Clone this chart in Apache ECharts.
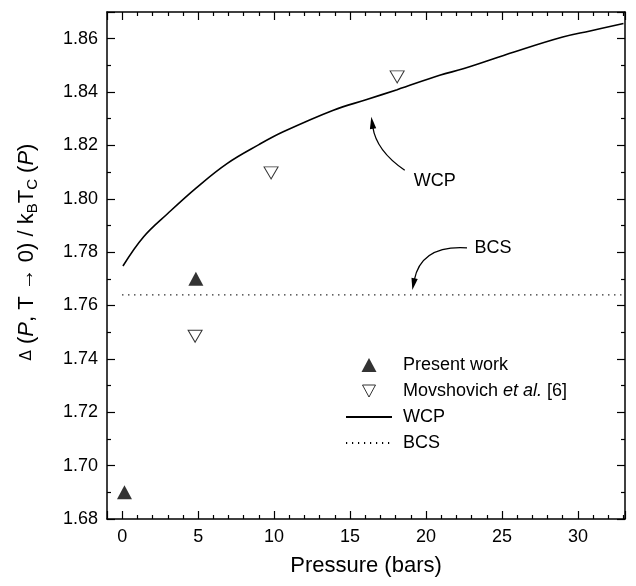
<!DOCTYPE html>
<html>
<head>
<meta charset="utf-8">
<script src="https://cdn.jsdelivr.net/npm/echarts@6.0.0/dist/echarts.min.js"></script>
<style>
  html, body { margin: 0; padding: 0; background: #fff; }
  #chart { width: 636px; height: 586px; }
</style>
</head>
<body>
<div id="chart"></div>
<script>
// values
const presentP = [0.15, 4.85];
const presentGap = [1.690, 1.770];

const movP = [4.8, 9.8, 18.1];
const movGap = [1.7485, 1.8097, 1.8457];

const wcpP = [0.05, 1.4, 3.0, 4.9, 6.9, 9.0, 10.6, 13.9, 16.1, 18.1, 20.9, 22.5, 25.8, 29.0, 30.8, 33.0];
const wcpGap = [1.7748, 1.7857, 1.7945, 1.8042, 1.8132, 1.8203, 1.8251, 1.8332, 1.8372, 1.8409, 1.8463, 1.8488, 1.8550, 1.8606, 1.8629, 1.8657];

const bcsP = [0, 33.1];
const bcsGap = [1.764, 1.764];

// annotation arrows: [tail, head] in data coordinates
const wcpArrow = [[18.6, 1.8107], [16.4, 1.8307]];
const bcsArrow = [[22.7, 1.7816], [19.1, 1.7658]];
const wcpLabelAt = [19.2, 1.8066];
const bcsLabelAt = [23.2, 1.7816];

const seriesNames = ['Present work', 'Movshovich et al. [6]', 'WCP', 'BCS'];

const FONT = 'Liberation Sans, Arial, Helvetica, sans-serif';

// legend triangles, padded to the 46x14 icon box so they are not stretched
const ICON_UP = 'path://M0,0M46,14M15.5,14L23,0L30.5,14Z';
const ICON_DOWN = 'path://M0,0M46,14M16.5,1L29.5,1L23,13Z';

function pairs(xs, ys) {
  return xs.map((x, i) => [x, ys[i]]);
}

const chart = echarts.init(document.getElementById('chart'));

const xCommon = {
  type: 'value',
  min: -1,
  max: 33.1,
  minInterval: 5,
  maxInterval: 5,
  axisLine: { show: true, onZero: false, lineStyle: { color: '#000', width: 1.5 } },
  axisTick: { show: true, inside: true, length: 8, lineStyle: { color: '#000', width: 1.2 } },
  minorTick: { show: true, splitNumber: 5, length: 4, lineStyle: { color: '#000', width: 1.2 } },
  splitLine: { show: false },
  minorSplitLine: { show: false }
};

const yCommon = {
  type: 'value',
  min: 1.68,
  max: 1.87,
  interval: 0.02,
  axisLine: { show: true, onZero: false, lineStyle: { color: '#000', width: 1.5 } },
  axisTick: { show: true, inside: true, length: 8, lineStyle: { color: '#000', width: 1.2 } },
  minorTick: { show: true, splitNumber: 2, length: 4, lineStyle: { color: '#000', width: 1.2 } },
  splitLine: { show: false },
  minorSplitLine: { show: false }
};

const yTitle = {
  type: 'text',
  x: 27,
  y: 252,
  rotation: Math.PI / 2,
  silent: true,
  style: {
    text: '{d|Δ} ({i|P}, T → 0) / k{s|B}T{s|C} ({i|P})',
    fontSize: 22,
    fontFamily: FONT,
    lineHeight: 26,
    fill: '#000',
    align: 'center',
    verticalAlign: 'middle',
    rich: {
      d: { fontSize: 15, fontFamily: 'DejaVu Sans, sans-serif', lineHeight: 26 },
      i: { fontSize: 22, fontFamily: FONT, fontStyle: 'italic', lineHeight: 26 },
      s: { fontSize: 15, fontFamily: FONT, lineHeight: 14, verticalAlign: 'bottom' }
    }
  }
};

const option = {
  animation: false,
  backgroundColor: '#fff',
  grid: { left: 107, right: 11, top: 12, bottom: 67 },
  xAxis: [
    Object.assign({}, xCommon, {
      position: 'bottom',
      axisLabel: {
        fontSize: 18, fontFamily: FONT, color: '#000', margin: 9,
        showMinLabel: false, showMaxLabel: false
      },
      name: 'Pressure (bars)',
      nameLocation: 'middle',
      nameGap: 36,
      nameTextStyle: { fontSize: 22, fontFamily: FONT, color: '#000' }
    }),
    Object.assign({}, xCommon, {
      position: 'top',
      axisLabel: { show: false }
    })
  ],
  yAxis: [
    Object.assign({}, yCommon, {
      position: 'left',
      axisLabel: {
        fontSize: 18, fontFamily: FONT, color: '#000', margin: 9,
        showMaxLabel: false,
        formatter: v => v.toFixed(2)
      }
    }),
    Object.assign({}, yCommon, {
      position: 'right',
      axisLabel: { show: false }
    })
  ],
  legend: {
    orient: 'vertical',
    left: 345,
    top: 353,
    padding: 0,
    itemWidth: 46,
    itemHeight: 14,
    itemGap: 2,
    data: [
      { name: seriesNames[0], icon: ICON_UP },
      { name: seriesNames[1], icon: ICON_DOWN, itemStyle: { borderWidth: 1, borderColor: '#000', color: '#fff' } },
      { name: seriesNames[2], itemStyle: { opacity: 0 } },
      { name: seriesNames[3], itemStyle: { opacity: 0 } }
    ],
    formatter: name => name === 'Movshovich et al. [6]' ? 'Movshovich {i|et al.} [6]' : name,
    textStyle: {
      fontSize: 18, fontFamily: FONT, color: '#000', lineHeight: 24,
      padding: [0, 0, 0, 6],
      rich: {
        i: { fontSize: 18, fontFamily: FONT, fontStyle: 'italic', color: '#000', lineHeight: 24 }
      }
    }
  },
  graphic: [yTitle],
  series: [
    {
      name: 'BCS',
      type: 'line',
      data: pairs(bcsP, bcsGap),
      symbol: 'none',
      lineStyle: { color: '#000', width: 1.2, type: [1.2, 4.8] },
      itemStyle: { color: '#000' },
      z: 2
    },
    {
      name: 'WCP',
      type: 'line',
      data: pairs(wcpP, wcpGap),
      smooth: 0.4,
      symbol: 'none',
      lineStyle: { color: '#000', width: 1.6 },
      itemStyle: { color: '#000' },
      z: 3,
      markPoint: {
        silent: true,
        symbol: 'circle',
        symbolSize: 0,
        label: {
          show: true, position: 'right', distance: 0,
          formatter: '{b}', fontSize: 18, fontFamily: FONT, color: '#000'
        },
        data: [
          { name: 'WCP', coord: wcpLabelAt },
          { name: 'BCS', coord: bcsLabelAt }
        ]
      }
    },
    {
      name: 'Present work',
      type: 'scatter',
      data: pairs(presentP, presentGap),
      symbol: 'triangle',
      symbolSize: [15, 14],
      itemStyle: { color: '#000' },
      z: 5
    },
    {
      name: 'Movshovich et al. [6]',
      type: 'scatter',
      data: pairs(movP, movGap),
      symbol: 'triangle',
      symbolSize: [14, 12],
      symbolRotate: 180,
      itemStyle: { color: '#fff', borderColor: '#000', borderWidth: 1 },
      z: 5
    }
  ]
};

chart.setOption(option);

// curved annotation arrow, placed through the axes' own conversion
function arrowGraphics(arrow, curveness) {
  const p1 = chart.convertToPixel({ xAxisIndex: 0, yAxisIndex: 0 }, arrow[0]);
  const p2 = chart.convertToPixel({ xAxisIndex: 0, yAxisIndex: 0 }, arrow[1]);
  const cp = [
    (p1[0] + p2[0]) / 2 - (p1[1] - p2[1]) * curveness,
    (p1[1] + p2[1]) / 2 - (p2[0] - p1[0]) * curveness
  ];
  let dx = p2[0] - cp[0];
  let dy = p2[1] - cp[1];
  const len = Math.hypot(dx, dy);
  dx /= len;
  dy /= len;
  const headLen = 12;
  const headHalf = 3.2;
  const base = [p2[0] - dx * headLen, p2[1] - dy * headLen];
  return [
    {
      type: 'bezierCurve',
      silent: true,
      shape: { x1: p1[0], y1: p1[1], x2: base[0] + dx * 2, y2: base[1] + dy * 2, cpx1: cp[0], cpy1: cp[1] },
      style: { stroke: '#000', lineWidth: 1.3, fill: 'none' }
    },
    {
      type: 'polygon',
      silent: true,
      shape: {
        points: [
          p2,
          [base[0] - dy * headHalf, base[1] + dx * headHalf],
          [base[0] + dy * headHalf, base[1] - dx * headHalf]
        ]
      },
      style: { fill: '#000' }
    }
  ];
}

chart.setOption({
  graphic: [yTitle].concat(arrowGraphics(wcpArrow, 0.22), arrowGraphics(bcsArrow, -0.44))
});
</script>
</body>
</html>
